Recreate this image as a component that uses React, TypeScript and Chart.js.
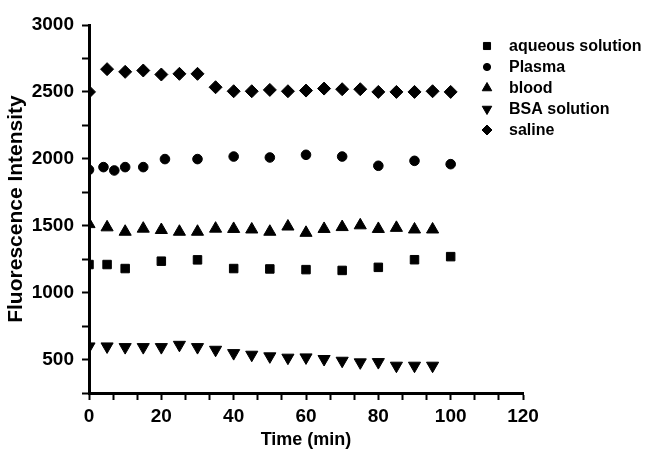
import React, { useEffect, useRef } from 'react';
import { Chart, registerables } from 'chart.js';
import { drawPoint } from 'chart.js/helpers';

Chart.register(...registerables);

const seriesNames = ['aqueous solution', 'Plasma', 'blood', 'BSA solution', 'saline'];

const aqueousTime = [0, 5, 10, 20, 30, 40, 50, 60, 70, 80, 90, 100];
const aqueousValues = [1210, 1210, 1180, 1235, 1245, 1180, 1177, 1172, 1166, 1189, 1246, 1269];

const plasmaTime = [0, 4, 7, 10, 15, 21, 30, 40, 50, 60, 70, 80, 90, 100];
const plasmaValues = [1918, 1938, 1913, 1938, 1938, 1998, 1998, 2017, 2010, 2030, 2017, 1948, 1985, 1960];

const bloodTime = [0, 5, 10, 15, 20, 25, 30, 35, 40, 45, 50, 55, 60, 65, 70, 75, 80, 85, 90, 95];
const bloodValues = [1512, 1488, 1455, 1478, 1468, 1455, 1455, 1478, 1476, 1472, 1455, 1494, 1447, 1476, 1490, 1503, 1476, 1484, 1472, 1472];

const bsaTime = [0, 5, 10, 15, 20, 25, 30, 35, 40, 45, 50, 55, 60, 65, 70, 75, 80, 85, 90, 95];
const bsaValues = [598, 598, 593, 593, 593, 610, 593, 573, 548, 536, 524, 514, 516, 504, 491, 479, 481, 454, 454, 454];

const salineTime = [0, 5, 10, 15, 20, 25, 30, 35, 40, 45, 50, 55, 60, 65, 70, 75, 80, 85, 90, 95, 100];
const salineValues = [2500, 2670, 2650, 2660, 2630, 2635, 2635, 2535, 2505, 2505, 2515, 2505, 2510, 2525, 2520, 2520, 2500, 2500, 2500, 2505, 2500];

const xTitle = 'Time (min)';
const yTitle = 'Fluorescence Intensity';

const pointStyles = ['rect', 'circle', 'triangle', 'triangle', 'rectRot'];
const pointRotations = [0, 0, 0, 180, 0];
const pointSizes = [6, 4.8, 7, 7, 6.5];
const legendSizes = [5, 3.6, 5.5, 5.5, 5];

const FONT = '"Liberation Sans", Arial, sans-serif';

const toPoints = (t: number[], v: number[]) => t.map((x, i) => ({ x, y: v[i] }));

const legendPlugin = {
  id: 'sideLegend',
  afterDraw(chart: any) {
    const ctx = chart.ctx as CanvasRenderingContext2D;
    ctx.save();
    chart.data.datasets.forEach((ds: any, i: number) => {
      const y = 46 + i * 21;
      ctx.fillStyle = '#000';
      ctx.strokeStyle = '#000';
      ctx.lineWidth = 1;
      drawPoint(ctx, { pointStyle: ds.pointStyle, rotation: ds.rotation || 0, radius: legendSizes[i], borderWidth: 1 } as any, 487, y);
      ctx.font = 'bold 16px ' + FONT;
      ctx.textBaseline = 'middle';
      ctx.textAlign = 'left';
      ctx.fillText(ds.label, 509, y + 1);
    });
    ctx.restore();
  },
};

export default function App() {
  const ref = useRef<HTMLCanvasElement | null>(null);

  useEffect(() => {
    if (!ref.current) return;
    const series = [
      toPoints(aqueousTime, aqueousValues),
      toPoints(plasmaTime, plasmaValues),
      toPoints(bloodTime, bloodValues),
      toPoints(bsaTime, bsaValues),
      toPoints(salineTime, salineValues),
    ];
    const chart = new Chart(ref.current, {
      type: 'scatter',
      data: {
        datasets: series.map((d, i) => ({
          label: seriesNames[i],
          data: d,
          pointStyle: pointStyles[i] as any,
          rotation: pointRotations[i],
          pointRadius: pointSizes[i],
          backgroundColor: '#000',
          borderColor: '#000',
          borderWidth: 1,
          showLine: false,
        })),
      },
      options: {
        responsive: false,
        animation: false,
        layout: { padding: { top: 25, right: 126, left: 0, bottom: 0 } },
        plugins: {
          legend: { display: false },
          tooltip: { enabled: false },
        },
        scales: {
          x: {
            type: 'linear',
            min: 0,
            max: 120,
            afterFit: (s: any) => { s.height = 62; },
            border: { display: true, color: '#000', width: 3 },
            grid: { display: true, drawOnChartArea: false, drawTicks: true, tickLength: 7, tickWidth: 2, tickColor: '#000' },
            ticks: {
              stepSize: 20 / 3,
              autoSkip: false,
              maxRotation: 0,
              color: '#000',
              padding: 5,
              font: { family: FONT, weight: 'bold', size: 19 },
              callback: (v: any) => {
                const n = Number(v);
                const r = Math.round(n / 20) * 20;
                return Math.abs(n - r) < 1e-6 ? String(r) : '';
              },
            },
            title: {
              display: true,
              text: xTitle,
              color: '#000',
              font: { family: FONT, weight: 'bold', size: 18 },
              padding: { top: 0, bottom: 4 },
            },
          },
          y: {
            type: 'linear',
            min: 250,
            max: 3000,
            afterFit: (s: any) => { s.width = 89; },
            border: { display: true, color: '#000', width: 3 },
            grid: { display: true, drawOnChartArea: false, drawTicks: true, tickLength: 7, tickWidth: 2, tickColor: '#000' },
            ticks: {
              stepSize: 250,
              autoSkip: false,
              color: '#000',
              padding: 8,
              font: { family: FONT, weight: 'bold', size: 19 },
              callback: (v: any) => {
                const n = Number(v);
                return n % 500 === 0 ? String(n) : '';
              },
            },
            title: {
              display: true,
              text: yTitle,
              color: '#000',
              font: { family: FONT, weight: 'bold', size: 21 },
              padding: { top: 4, bottom: 0 },
            },
          },
        },
      },
      plugins: [legendPlugin],
    });
    return () => chart.destroy();
  }, []);

  return (
    <div style={{ position: 'fixed', left: 0, top: 0, width: 649, height: 455, background: '#fff' }}>
      <canvas ref={ref} width={649} height={455} style={{ width: 649, height: 455, display: 'block' }} />
    </div>
  );
}
